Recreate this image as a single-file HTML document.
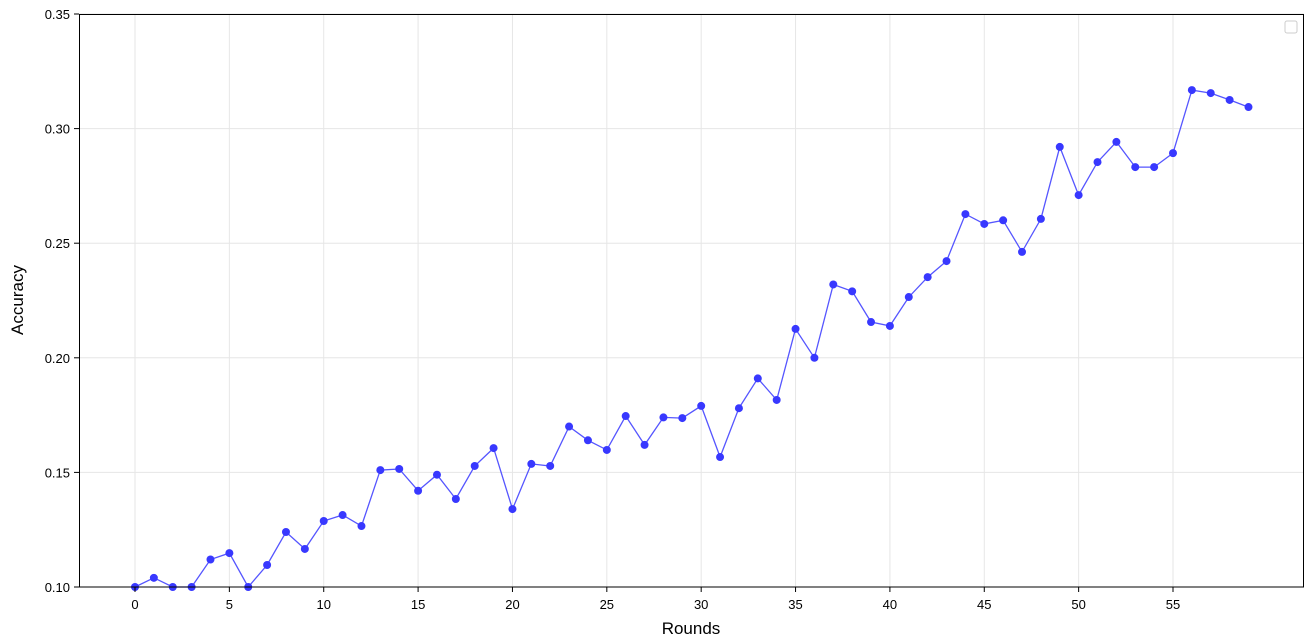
<!DOCTYPE html>
<html><head><meta charset="utf-8"><style>
body{margin:0;background:#fff;}
svg{display:block;font-family:"Liberation Sans","DejaVu Sans",sans-serif;}
</style></head><body>
<svg id="chart" width="1309" height="643">
<rect x="0" y="0" width="1309" height="643" fill="#fff"/>
<g id="grid"></g>
<g id="series"></g>
<rect x="79.5" y="14.5" width="1224" height="572.5" fill="none" stroke="#000" stroke-width="1"/>
<g id="axes"></g>
<rect x="1285" y="21" width="12" height="12" rx="2" fill="#fff" stroke="#ccc"/>
<text x="691" y="634" text-anchor="middle" font-size="17" fill="#000">Rounds</text>
<text x="23" y="300" text-anchor="middle" font-size="17" fill="#000" transform="rotate(-90 23 300)">Accuracy</text>
</svg>
<script>
const rounds = Array.from({length:60},(_, i)=>i);
const accuracy = [0.100,0.104,0.100,0.100,0.112,0.1148,0.100,0.1096,0.124,0.1166,
0.1288,0.1314,0.1266,0.151,0.1515,0.142,0.149,0.1384,0.1528,0.1606,
0.134,0.1537,0.1528,0.170,0.164,0.1598,0.1746,0.162,0.174,0.1737,
0.179,0.1567,0.178,0.191,0.1816,0.2126,0.200,0.232,0.229,0.2156,
0.2139,0.2265,0.2352,0.2422,0.2627,0.2584,0.260,0.2462,0.2606,0.292,
0.271,0.2854,0.2942,0.2832,0.2832,0.2893,0.3168,0.3155,0.3125,0.3094];
const xTicks = [0,5,10,15,20,25,30,35,40,45,50,55];
const yTicks = [0.10,0.15,0.20,0.25,0.30,0.35];
const NS="http://www.w3.org/2000/svg";
const X = v => 135 + v*(1173-135)/55;
const Y = v => 587 - (v-0.10)*(587-14)/0.25;
function mk(tag, attrs, parent){const e=document.createElementNS(NS,tag);for(const k in attrs)e.setAttribute(k,attrs[k]);parent.appendChild(e);return e;}
const grid=document.getElementById('grid'), axes=document.getElementById('axes'), ser=document.getElementById('series');
xTicks.forEach(t=>{
  const gl=mk('line',{x1:X(t),x2:X(t),y1:14,y2:587,stroke:'#e6e6e6','stroke-width':1},grid);
  
  
  const tk=mk('line',{x1:X(t),x2:X(t),y1:587,y2:592,stroke:'#000'},axes);
  
  
  const tx=mk('text',{x:X(t),y:609,'text-anchor':'middle','font-size':13,fill:'#000'},axes);
  tx.textContent=t;
  
  
});
yTicks.forEach(t=>{
  const gl=mk('line',{x1:79,x2:1304,y1:Y(t),y2:Y(t),stroke:'#e6e6e6','stroke-width':1},grid);
  
  
  const tk=mk('line',{x1:74,x2:79,y1:Y(t),y2:Y(t),stroke:'#000'},axes);
  
  
  const tx=mk('text',{x:70,y:Y(t)+5,'text-anchor':'end','font-size':13,fill:'#000'},axes);
  tx.textContent=t.toFixed(2);
  
  
});
const pts=rounds.map((r,i)=>X(r).toFixed(1)+','+Y(accuracy[i]).toFixed(1)).join(' ');
const line=mk('polyline',{points:pts,fill:'none',stroke:'#5555ff','stroke-width':1.3},ser);


rounds.forEach((r,i)=>{
  const c=mk('circle',{cx:X(r),cy:Y(accuracy[i]),r:4,fill:'#3838ff'},ser);
  
  
});
</script>
</body></html>
